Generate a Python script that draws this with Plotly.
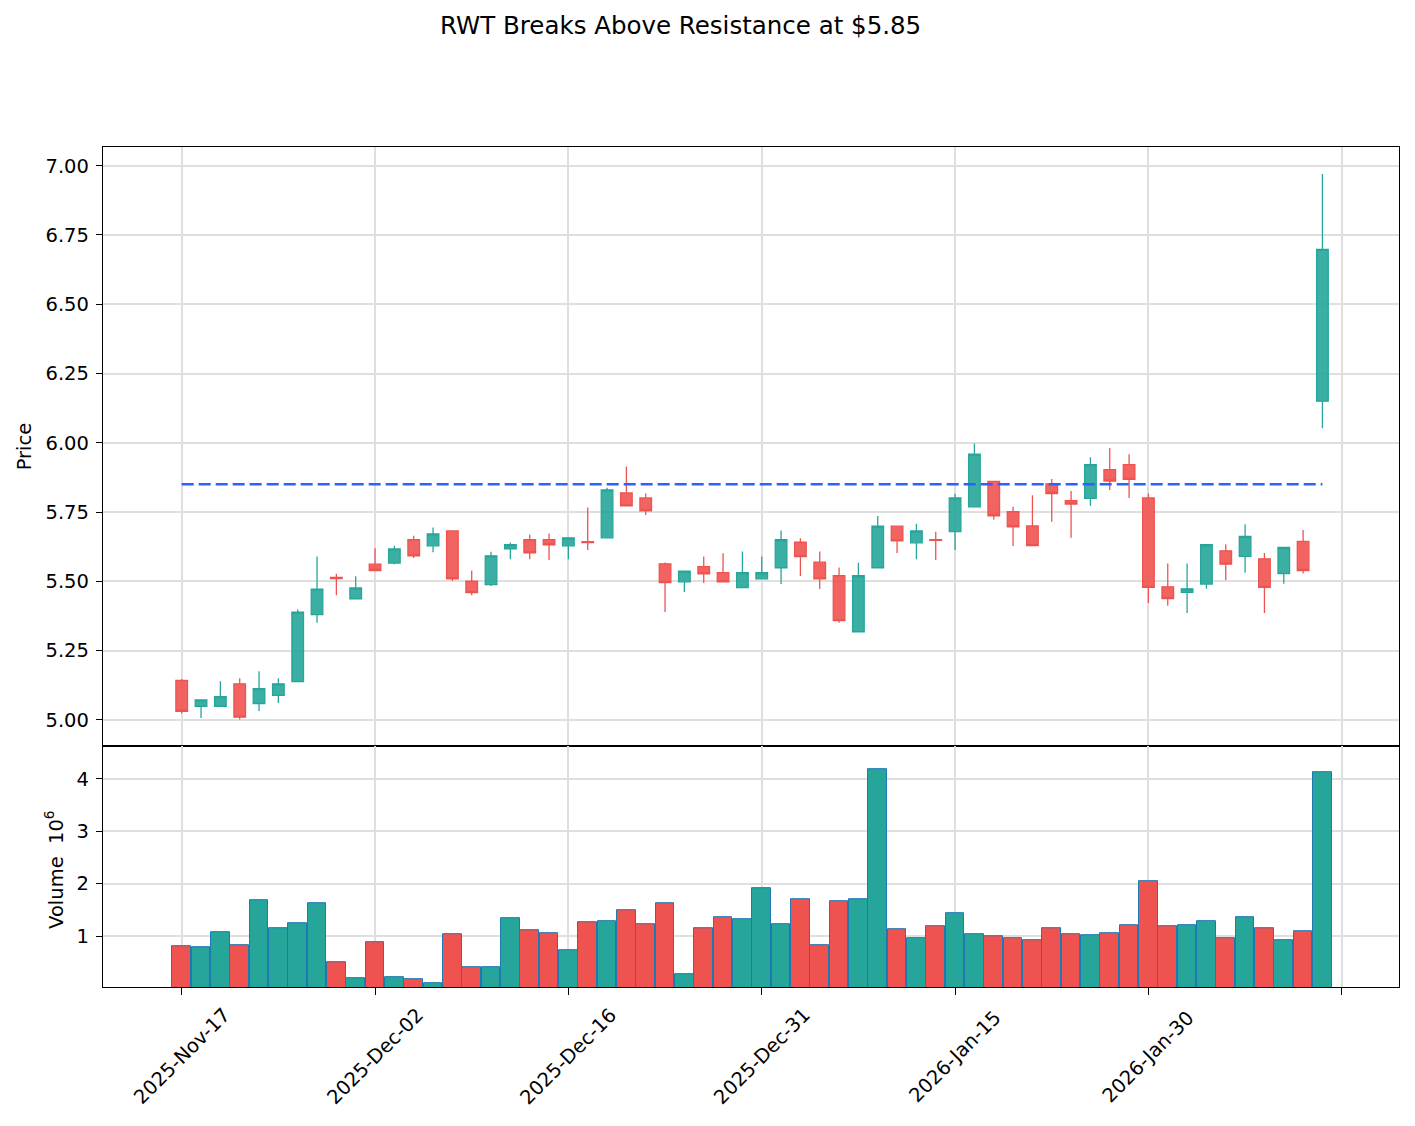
import plotly.graph_objects as go

dates = [
    "2025-11-17", "2025-11-18", "2025-11-19", "2025-11-20", "2025-11-21",
    "2025-11-24", "2025-11-25", "2025-11-26", "2025-11-28",
    "2025-12-01", "2025-12-02", "2025-12-03", "2025-12-04", "2025-12-05",
    "2025-12-08", "2025-12-09", "2025-12-10", "2025-12-11", "2025-12-12",
    "2025-12-15", "2025-12-16", "2025-12-17", "2025-12-18", "2025-12-19",
    "2025-12-22", "2025-12-23", "2025-12-24", "2025-12-26",
    "2025-12-29", "2025-12-30", "2025-12-31",
    "2026-01-02", "2026-01-05", "2026-01-06", "2026-01-07", "2026-01-08",
    "2026-01-09", "2026-01-12", "2026-01-13", "2026-01-14", "2026-01-15",
    "2026-01-16", "2026-01-20", "2026-01-21", "2026-01-22", "2026-01-23",
    "2026-01-26", "2026-01-27", "2026-01-28", "2026-01-29", "2026-01-30",
    "2026-02-02", "2026-02-03", "2026-02-04", "2026-02-05", "2026-02-06",
    "2026-02-09", "2026-02-10", "2026-02-11", "2026-02-12",
]

opens = [5.142, 5.049, 5.049, 5.130, 5.059, 5.088, 5.138, 5.380, 5.514, 5.437,
         5.562, 5.566, 5.650, 5.628, 5.682, 5.501, 5.488, 5.617, 5.650, 5.650,
         5.628, 5.643, 5.657, 5.819, 5.801, 5.563, 5.498, 5.553, 5.531, 5.477,
         5.509, 5.549, 5.641, 5.569, 5.520, 5.318, 5.549, 5.699, 5.639, 5.650,
         5.679, 5.769, 5.861, 5.751, 5.700, 5.852, 5.791, 5.799, 5.903, 5.921,
         5.801, 5.480, 5.460, 5.490, 5.610, 5.590, 5.581, 5.528, 5.644, 6.150]
highs = [5.147, 5.072, 5.139, 5.150, 5.175, 5.150, 5.398, 5.590, 5.527, 5.518,
         5.619, 5.628, 5.664, 5.694, 5.682, 5.539, 5.607, 5.640, 5.669, 5.673,
         5.657, 5.766, 5.838, 5.914, 5.817, 5.568, 5.537, 5.590, 5.601, 5.608,
         5.590, 5.683, 5.655, 5.608, 5.550, 5.567, 5.736, 5.699, 5.708, 5.679,
         5.816, 5.997, 5.861, 5.769, 5.811, 5.869, 5.826, 5.948, 5.981, 5.959,
         5.817, 5.564, 5.564, 5.632, 5.634, 5.706, 5.602, 5.622, 5.685, 6.970]
lows = [5.023, 5.007, 5.049, 5.001, 5.032, 5.061, 5.138, 5.350, 5.450, 5.437,
        5.539, 5.562, 5.584, 5.605, 5.501, 5.450, 5.483, 5.580, 5.580, 5.577,
        5.580, 5.613, 5.657, 5.772, 5.739, 5.389, 5.461, 5.494, 5.498, 5.477,
        5.509, 5.490, 5.519, 5.472, 5.350, 5.318, 5.549, 5.602, 5.580, 5.577,
        5.613, 5.769, 5.722, 5.627, 5.629, 5.715, 5.657, 5.773, 5.830, 5.801,
        5.422, 5.412, 5.386, 5.473, 5.504, 5.531, 5.386, 5.491, 5.528, 6.052]
closes = [5.031, 5.072, 5.084, 5.010, 5.113, 5.130, 5.389, 5.472, 5.510, 5.476,
          5.539, 5.617, 5.592, 5.671, 5.509, 5.459, 5.592, 5.632, 5.603, 5.632,
          5.657, 5.640, 5.830, 5.772, 5.754, 5.495, 5.537, 5.527, 5.498, 5.531,
          5.531, 5.650, 5.589, 5.509, 5.358, 5.520, 5.699, 5.646, 5.682, 5.648,
          5.801, 5.959, 5.736, 5.697, 5.629, 5.817, 5.779, 5.921, 5.862, 5.868,
          5.478, 5.438, 5.473, 5.632, 5.562, 5.662, 5.478, 5.622, 5.539, 6.698]
volumes_m = [0.80, 0.78, 1.08, 0.83, 1.68, 1.16, 1.24, 1.63, 0.51, 0.19,
             0.89, 0.22, 0.18, 0.11, 1.03, 0.41, 0.41, 1.35, 1.12, 1.06,
             0.74, 1.27, 1.29, 1.50, 1.22, 1.62, 0.28, 1.16, 1.37, 1.33,
             1.91, 1.22, 1.71, 0.83, 1.66, 1.70, 4.18, 1.14, 0.97, 1.18,
             1.43, 1.04, 0.99, 0.97, 0.93, 1.16, 1.03, 1.01, 1.06, 1.20,
             2.04, 1.18, 1.20, 1.29, 0.97, 1.37, 1.16, 0.93, 1.10, 4.13]

resistance = 5.85
tick_positions = [0, 10, 20, 30, 40, 50, 60]
price_ticks = [5.00, 5.25, 5.50, 5.75, 6.00, 6.25, 6.50, 6.75, 7.00]
volume_ticks = [1, 2, 3, 4]
title_text = "RWT Breaks Above Resistance at $5.85"

MONTHS = ["Jan", "Feb", "Mar", "Apr", "May", "Jun", "Jul", "Aug", "Sep", "Oct", "Nov", "Dec"]


def fmt(d):
    y, m, dd = d.split("-")
    return f"{y}-{MONTHS[int(m) - 1]}-{dd}"


tick_labels = [fmt(dates[i]) if i < len(dates) else "" for i in tick_positions]

UP = "#26a69a"
DOWN = "#ef5350"
UP_FILL = "rgba(38,166,154,0.9)"
DOWN_FILL = "rgba(239,83,80,0.9)"
FONT = "DejaVu Sans"
FS = 19.5

idx = list(range(len(dates)))
vol_colors = [UP if c >= o else DOWN for o, c in zip(opens, closes)]

fig = go.Figure()

fig.add_trace(go.Candlestick(
    x=idx, open=opens, high=highs, low=lows, close=closes,
    xaxis="x", yaxis="y",
    increasing=dict(line=dict(color=UP, width=1.3), fillcolor=UP_FILL),
    decreasing=dict(line=dict(color=DOWN, width=1.3), fillcolor=DOWN_FILL),
    whiskerwidth=0, showlegend=False, text=dates, hoverinfo="text+y",
))

fig.add_trace(go.Scatter(
    x=[idx[0], idx[-1]], y=[resistance, resistance], mode="lines",
    line=dict(color="#2962ff", width=2.5, dash="12px,5px"),
    xaxis="x", yaxis="y", showlegend=False, hoverinfo="skip",
))

fig.add_trace(go.Bar(
    x=idx, y=volumes_m, width=0.97,
    marker=dict(color=vol_colors, line=dict(color="#1f77b4", width=1)),
    xaxis="x2", yaxis="y2", showlegend=False, text=dates, hoverinfo="text+y",
    textposition="none",
))

axis_common = dict(
    showline=True, linecolor="black", linewidth=1.4, mirror=True,
    showgrid=True, gridcolor="#dfdfdf", gridwidth=1.5, zeroline=False,
    tickfont=dict(family=FONT, size=FS, color="black"),
)

VOL_TOP = 0.2867
XR = [-4.07, 62.96]

fig.update_layout(
    width=1415, height=1126,
    margin=dict(l=103, r=16, t=147, b=139, pad=0),
    paper_bgcolor="white", plot_bgcolor="white",
    boxgap=0.4, boxgroupgap=0,
    bargap=0,
    font=dict(family=FONT, size=FS, color="black"),
    xaxis=dict(
        domain=[0, 1], anchor="y", range=XR, matches="x2",
        tickvals=tick_positions, showticklabels=False, ticks="",
        rangeslider=dict(visible=False), **axis_common,
    ),
    yaxis=dict(
        domain=[VOL_TOP, 1], anchor="x", range=[4.905, 7.0675],
        tickvals=price_ticks,
        tickformat=".2f", ticks="outside", ticklen=6, tickwidth=1.4,
        tickcolor="black", ticklabelstandoff=3, **axis_common,
    ),
    xaxis2=dict(
        domain=[0, 1], anchor="y2", range=XR,
        tickvals=tick_positions, showticklabels=False,
        ticks="outside", ticklen=7, tickwidth=1.4, tickcolor="black",
        **axis_common,
    ),
    yaxis2=dict(
        domain=[0, VOL_TOP], anchor="x2", range=[0.03, 4.62],
        tickvals=volume_ticks, ticks="outside", ticklen=6, tickwidth=1.4,
        tickcolor="black", ticklabelstandoff=3, **axis_common,
    ),
)

annotations = []
# rotated date labels, centred under each tick
for pos, lab in zip(tick_positions, tick_labels):
    if lab:
        annotations.append(dict(
            x=pos, xref="x2", y=-0.0825, yref="paper",
            text=lab, textangle=-45, showarrow=False,
            xanchor="center", yanchor="middle",
            font=dict(family=FONT, size=FS, color="black"),
        ))
annotations.append(dict(
    x=-0.0604, y=0.6433, xref="paper", yref="paper", text="Price",
    textangle=-90, showarrow=False, xanchor="center", yanchor="middle",
    font=dict(family=FONT, size=FS, color="black"),
))
annotations.append(dict(
    x=-0.0373, y=0.139, xref="paper", yref="paper",
    text="Volume  10<sup>6</sup>",
    textangle=-90, showarrow=False, xanchor="center", yanchor="middle",
    font=dict(family=FONT, size=FS, color="black"),
))
annotations.append(dict(
    x=0.4459, y=1.1441, xref="paper", yref="paper", text=title_text,
    showarrow=False, xanchor="center", yanchor="middle",
    font=dict(family=FONT, size=24.5, color="black"),
))
fig.update_layout(annotations=annotations)

fig.write_html("out.html")
